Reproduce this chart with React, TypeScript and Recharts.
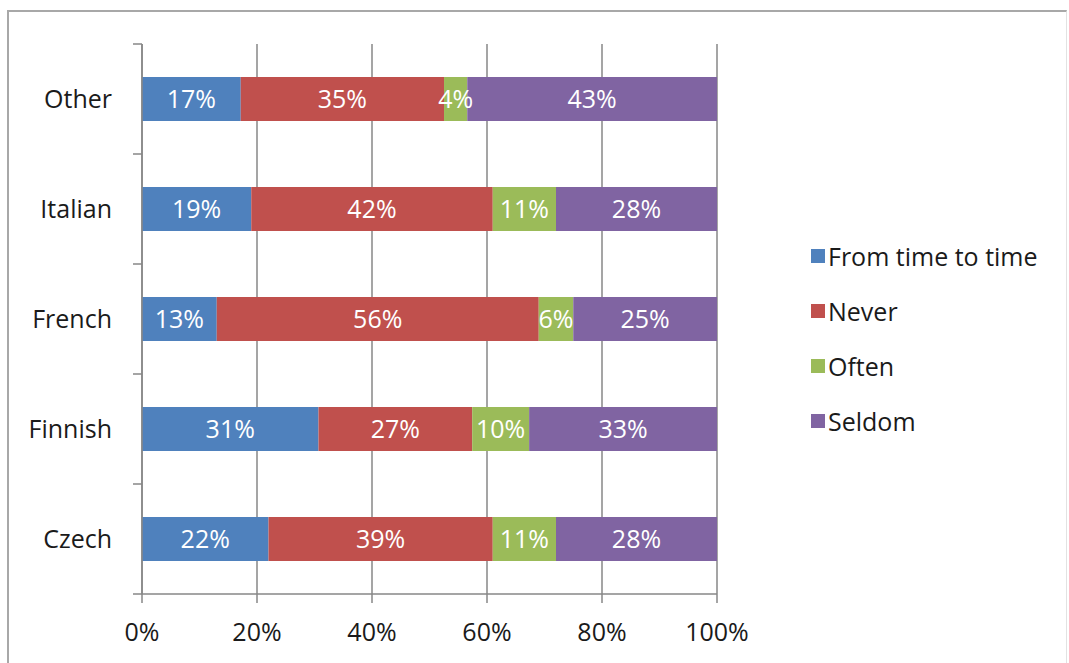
import { BarChart, Bar, XAxis, YAxis, CartesianGrid, LabelList } from "recharts";

const languages = ["Other", "Italian", "French", "Finnish", "Czech"];
const fromTimeToTime = [17, 19, 13, 31, 22];
const never = [35, 42, 56, 27, 39];
const often = [4, 11, 6, 10, 11];
const seldom = [43, 28, 25, 33, 28];
const xTicks = [0, 0.2, 0.4, 0.6, 0.8, 1];

const series = [
  { key: "From time to time", color: "#4F81BD", values: fromTimeToTime },
  { key: "Never", color: "#C0504D", values: never },
  { key: "Often", color: "#9BBB59", values: often },
  { key: "Seldom", color: "#8064A2", values: seldom },
];

const rows = languages.map((name, i) => {
  const row: Record<string, string | number> = { name };
  series.forEach((s) => (row[s.key] = s.values[i]));
  return row;
});

const FONT = "'Open Sans', sans-serif";
const AXIS = "#878787";
const BAND = 110;
const AXIS_X = 142;

function CategoryTick(props: any) {
  const { y, payload, index } = props;
  return (
    <g>
      <line x1={AXIS_X - 9} x2={AXIS_X} y1={y - BAND / 2} y2={y - BAND / 2} stroke={AXIS} strokeWidth={1.5} />
      {index === languages.length - 1 && (
        <line x1={AXIS_X - 9} x2={AXIS_X} y1={y + BAND / 2} y2={y + BAND / 2} stroke={AXIS} strokeWidth={1.5} />
      )}
      <text x={112} y={y} dy="0.35em" textAnchor="end" fill="#1a1a1a" fontSize={25} fontFamily={FONT}>
        {payload.value}
      </text>
    </g>
  );
}

function LegendBox() {
  return (
    <div style={{ position: "absolute", left: 811, top: 228, fontFamily: FONT, fontSize: 25, color: "#1a1a1a" }}>
      {series.map((s) => (
        <div key={s.key} style={{ display: "flex", alignItems: "center", height: 55, whiteSpace: "nowrap" }}>
          <span style={{ width: 14, height: 14, background: s.color, marginRight: 3, display: "inline-block" }} />
          <span>{s.key}</span>
        </div>
      ))}
    </div>
  );
}

export default function App() {
  return (
    <div style={{ position: "absolute", left: 0, top: 0, width: 1069, height: 663, background: "#fff", overflow: "hidden" }}>
      <div
        style={{
          position: "absolute",
          left: 7,
          top: 10,
          width: 1060,
          height: 700,
          borderTop: "2px solid #a8a8a8",
          borderLeft: "2px solid #a8a8a8",
          borderRight: "1px solid #e2e2e2",
          boxSizing: "border-box",
        }}
      />
      <div style={{ position: "absolute", left: 0, top: 0 }}>
        <BarChart
          width={1069}
          height={663}
          data={rows}
          layout="vertical"
          stackOffset="expand"
          margin={{ top: 44, right: 352, bottom: 0, left: 0 }}
        >
          <CartesianGrid horizontal={false} stroke={AXIS} strokeWidth={1.5} />
          <XAxis
            type="number"
            domain={[0, 1]}
            ticks={xTicks}
            tickFormatter={(v: number) => `${Math.round(v * 100)}%`}
            height={69}
            tickSize={9}
            tickMargin={20}
            stroke={AXIS}
            strokeWidth={1.5}
            tick={{ fill: "#1a1a1a", fontSize: 25, fontFamily: FONT }}
          />
          <YAxis
            type="category"
            dataKey="name"
            width={142}
            tickLine={false}
            stroke={AXIS}
            strokeWidth={1.5}
            tick={<CategoryTick />}
          />
          {series.map((s) => (
            <Bar key={s.key} dataKey={s.key} stackId="a" fill={s.color} barSize={44} isAnimationActive={false}>
              <LabelList
                dataKey={s.key}
                position="center"
                fill="#ffffff"
                fontSize={25}
                fontFamily={FONT}
                formatter={(v: any) => `${v}%`}
              />
            </Bar>
          ))}
        </BarChart>
      </div>
      <LegendBox />
    </div>
  );
}
